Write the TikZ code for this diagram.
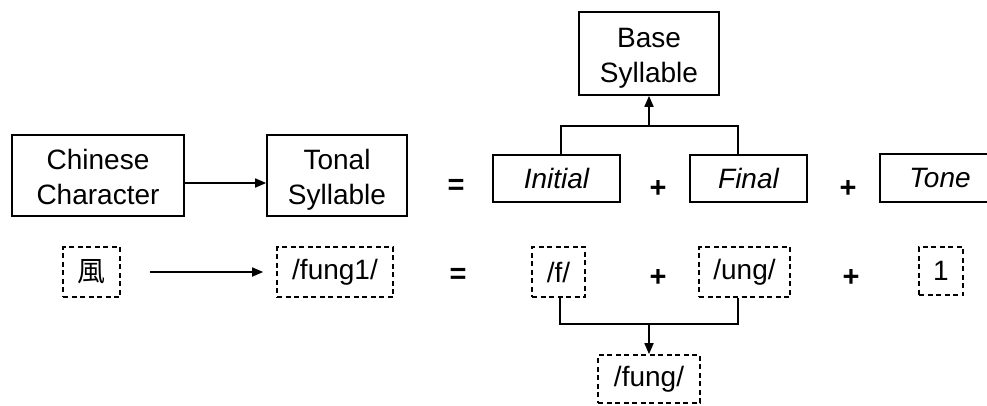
\documentclass[tikz,border=0pt]{standalone}
\usepackage{fontspec}
\setmainfont{Liberation Sans}
\newfontfamily\cjk{Noto Sans CJK TC}
\usetikzlibrary{arrows.meta}
\newcommand{\twoline}[2]{\raisebox{-11pt}[0pt][0pt]{\begin{tabular}{@{}c@{}}#1\\#2\end{tabular}}}
\begin{document}
\begin{tikzpicture}[x=1pt,y=-1pt,
  every node/.style={font=\fontsize{28}{35}\selectfont},
  solidbox/.style={draw, line width=1.7pt, inner sep=0pt, align=center},
  dashbox/.style={draw, line width=1.7pt, inner sep=0pt, align=center, dash pattern=on 5pt off 3.5pt},
  op/.style={font=\fontsize{29}{35}\selectfont\bfseries, inner sep=0pt},
  link/.style={line width=1.7pt},
  arr/.style={line width=1.7pt, -{Triangle[length=11pt,width=9pt]}}
]
\useasboundingbox (0,0) rectangle (987,405);
% top row
\node[solidbox, minimum width=172pt, minimum height=81pt] (cc) at (98,175.5) {\twoline{Chinese}{Character}};
\node[solidbox, minimum width=140pt, minimum height=81pt] (ts) at (337,175.5) {\twoline{Tonal}{Syllable}};
\node[solidbox, minimum width=140pt, minimum height=83pt] (base) at (649,53.5) {\twoline{Base}{Syllable}};
\node[solidbox, minimum width=127pt, minimum height=47pt] (init) at (556.5,178.5) {\itshape Initial};
\node[solidbox, minimum width=117pt, minimum height=47pt] (fin) at (748.5,178.5) {\itshape Final};
\node[solidbox, minimum width=120pt, minimum height=48pt] (tone) at (940,178) {\itshape Tone};
\node[op] (eq1) at (456,187) {=};
\node[op] (pl1) at (658,189) {+};
\node[op] (pl2) at (848,189) {+};
% bottom row
\node[dashbox, minimum width=57pt, minimum height=50pt] (feng) at (91.5,272) {\cjk 風};
\node[dashbox, minimum width=116pt, minimum height=50pt] (fung1) at (335,272) {/fung1/};
\node[dashbox, minimum width=53pt, minimum height=50pt] (f) at (558.5,272) {/f/};
\node[dashbox, minimum width=91pt, minimum height=50pt] (ung) at (744.5,272) {/ung/};
\node[dashbox, minimum width=44pt, minimum height=48pt] (one) at (941,271) {1};
\node[dashbox, minimum width=102pt, minimum height=48pt] (fung) at (649,379) {/fung/};
\node[op] (eq2) at (458,276) {=};
\node[op] (pl3) at (658,278) {+};
\node[op] (pl4) at (851,278) {+};
% connectors
\draw[arr] ([yshift=-7.5pt]cc.east) -- ([yshift=-7.5pt]ts.west);
\draw[arr, shorten <=29pt, shorten >=13pt] (feng.east) -- (fung1.west);
\coordinate (ja) at (561,126);
\coordinate (jb) at (738,126);
\coordinate (jm) at (649,126);
\draw[link] (ja |- init.north) -- (ja) -- (jb) -- (jb |- fin.north);
\draw[arr] (jm) -- (base.south);
\coordinate (ka) at (560,324);
\coordinate (kb) at (738,324);
\coordinate (km) at (649,324);
\draw[link] (ka |- f.south) -- (ka) -- (kb) -- (kb |- ung.south);
\draw[arr] (km) -- (fung.north);
\end{tikzpicture}
\end{document}
